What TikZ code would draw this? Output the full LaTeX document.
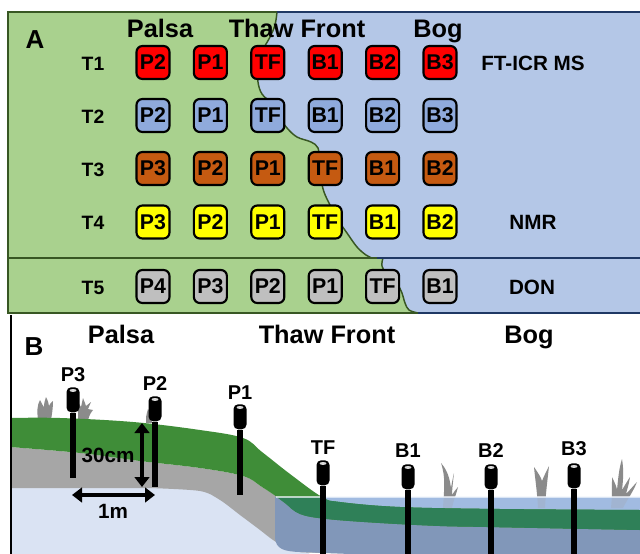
\documentclass[tikz,border=0pt]{standalone}
\usepackage{fontspec}
\setmainfont{Liberation Sans}
\usetikzlibrary{arrows.meta}

% panel A colours
\definecolor{palsaFill}{HTML}{A9D18E}
\definecolor{bogFill}{HTML}{B4C7E7}
\definecolor{palsaLine}{HTML}{385723}
\definecolor{bogLine}{HTML}{1F3864}
\definecolor{cRed}{HTML}{FF0000}
\definecolor{cBlue}{HTML}{8FAADC}
\definecolor{cBrown}{HTML}{C55A11}
\definecolor{cYellow}{HTML}{FFFF00}
\definecolor{cGray}{HTML}{BFBFBF}
% panel B colours
\definecolor{moss}{HTML}{3F8D38}
\definecolor{bogmoss}{HTML}{2F8058}
\definecolor{mineral}{HTML}{A6A6A6}
\definecolor{permafrost}{HTML}{DAE3F3}
\definecolor{peat}{HTML}{8197B9}
\definecolor{pool}{HTML}{B0CBF2}
\definecolor{plant}{HTML}{7F7F7F}

\tikzset{
  sbox/.style={draw=black, line width=1.6pt, rounded corners=4.5pt,
    minimum width=24.75pt, minimum height=24.75pt, inner sep=0pt,
    font=\bfseries\fontsize{16}{16}\selectfont, text height=11.1pt, text depth=0pt},
  rowlab/.style={inner sep=0pt, font=\bfseries\fontsize{14.5}{14.5}\selectfont,
    text height=10.1pt, text depth=0pt},
  methodlab/.style={inner sep=0pt, font=\bfseries\fontsize{15.5}{15.5}\selectfont,
    text height=10.8pt, text depth=0pt},
  sitetitle/.style={inner sep=0pt, anchor=base, font=\bfseries\fontsize{19}{19}\selectfont},
  panellab/.style={inner sep=0pt, anchor=base, font=\bfseries\fontsize{19.5}{19.5}\selectfont},
  edgeP/.style={draw=palsaLine, line width=2.2pt},
  edgeB/.style={draw=bogLine, line width=2.2pt},
  probecap/.style={fill=black, rounded corners=3.5pt, minimum width=9.75pt,
    minimum height=18.75pt, inner sep=0pt, anchor=north},
  probestick/.style={draw=black, line width=4.1pt},
  probeglint/.style={fill=white!70!gray},
  probelab/.style={inner sep=0pt, font=\bfseries\fontsize{15}{15}\selectfont,
    text height=10.5pt, text depth=0pt},
  dimarrow/.style={line width=3.1pt, {Triangle[width=11pt,length=7.5pt]}-{Triangle[width=11pt,length=7.5pt]}},
  dimlab/.style={inner sep=0pt, font=\bfseries\fontsize{15.5}{15.5}\selectfont,
    text height=10.8pt, text depth=0pt},
  vegetation/.style={fill=plant, fill opacity=0.9},
}

\begin{document}
\begin{tikzpicture}[x=0.75pt, y=-0.75pt]
\useasboundingbox (0,0) rectangle (640,554);
\fill[white] (0,0) rectangle (640,554);

% ---------------- Panel A: sampling scheme ----------------
\fill[bogFill] (8,12) rectangle (640,313);
\filldraw[fill=palsaFill, draw=palsaLine, line width=1.1pt, line join=round]
  (8,12) -- (277,12)
  -- plot[smooth, tension=0.6] coordinates {(277,12) (275,25) (270,37) (263,50)
     (258,67) (258,82) (262,94) (272,104) (280,118) (287,128) (297,137) (311,142)
     (318,148) (319,160) (321,178) (324,192) (331,207) (338,220) (347,233)
     (357,247) (366,255) (372,258)}
  -- (383,258)
  -- plot[smooth, tension=0.6] coordinates {(383,258) (382,266) (387,275)
     (397,284) (402,293) (405,303) (409,310) (418,313)}
  -- (8,313) -- cycle;

% frame and row separator
\draw[edgeP, line join=miter] (277,12) -- (8,12) -- (8,313) -- (418,313);
\draw[edgeP] (8,258) -- (377,258);
\draw[edgeB] (277,12) -- (641,12);
\draw[edgeB] (377,258) -- (641,258);
\draw[edgeB] (418,313) -- (641,313);

\node[panellab] (labA) at (35,48) {A};
\node[sitetitle] (tPalsaA) at (160,37) {Palsa};
\node[sitetitle] (tThawA) at (297,37) {Thaw Front};
\node[sitetitle] (tBogA) at (438,37) {Bog};

\foreach \r/\y/\col/\labs in {
    1/62.5/cRed/{P2,P1,TF,B1,B2,B3},
    2/115.5/cBlue/{P2,P1,TF,B1,B2,B3},
    3/168.5/cBrown/{P3,P2,P1,TF,B1,B2},
    4/222/cYellow/{P3,P2,P1,TF,B1,B2},
    5/286.5/cGray/{P4,P3,P2,P1,TF,B1}} {
  \node[rowlab] (T\r) at (93,\y+1.2) {T\r};
  \foreach \lab [count=\c] in \labs {
    \pgfmathsetmacro\xx{153+(\c-1)*57.4}
    \node[sbox, fill=\col] (s\r-\c) at (\xx,\y) {\lab};
  }
}

\node[methodlab] (mFT) at (533,63.3) {FT-ICR MS};
\node[methodlab] (mNMR) at (533,222.5) {NMR};
\node[methodlab] (mDON) at (532,287.5) {DON};

% ---------------- Panel B: transect cross-section ----------------
\begin{scope}
\clip (12,315) rectangle (640,554);
% permafrost base, kept below the mineral layer
\fill[permafrost] (10,486) -- (230,486) -- (312,556) -- (10,556) -- cycle;
% mineral layer
\fill[mineral]
  plot[smooth, tension=0.6] coordinates {(10,447) (80,453) (140,461) (200,468)
     (243,476) (262,487) (277,497)}
  -- (640,497) -- (640,556)
  -- plot[smooth, tension=0.5] coordinates {(640,556) (330,553) (300,551) (287,548)
     (273,540) (260,530) (240,515) (220,500) (200,491) (150,488)}
  -- (10,488) -- cycle;
% waterlogged peat of the bog
\fill[peat] (275,497) -- (275,538) .. controls (276,549) and (284,551.5) .. (300,552)
  -- (400,556) -- (640,556) -- (640,497) -- cycle;

% vegetation
\fill[vegetation] (38,420) .. controls (37,412) and (37,405) .. (40,400)
  .. controls (42,404) and (43,406) .. (44,407) .. controls (44,403) and (45,400) .. (46,397)
  .. controls (48,401) and (49,404) .. (49,406) .. controls (50,404) and (51,402) .. (53,401)
  .. controls (53,408) and (52,414) .. (51,420) -- cycle;
\fill[vegetation] (78,420) -- (78,402) .. controls (80,404) .. (81,407)
  .. controls (82,403) .. (83,398) .. controls (85,403) .. (86,406)
  .. controls (88,404) .. (91,402) .. controls (90,406) .. (88,409)
  .. controls (90,409) .. (93,410) .. controls (90,414) .. (88,420) -- cycle;
\fill[vegetation] (146,423) .. controls (146,416) .. (148,409) .. controls (150,412) .. (152,410)
  -- (152,423) -- cycle;
\fill[vegetation] (443,508) .. controls (444,490) and (446,478) .. (441,463)
  .. controls (449,472) and (450,482) .. (451,488) .. controls (452,482) and (453,477) .. (454,473)
  .. controls (453,482) and (452,490) .. (452,495) .. controls (454,492) and (456,489) .. (458,487)
  .. controls (456,495) and (453,502) .. (452,508) -- cycle;
\fill[vegetation] (538,508) .. controls (537,490) and (535,478) .. (534,467)
  .. controls (538,473) and (541,477) .. (542,481) .. controls (544,476) and (547,470) .. (549,466)
  .. controls (548,476) and (546,490) .. (545,508) -- cycle;
\fill[vegetation] (611,508) .. controls (612,498) and (612,488) .. (612,477)
  .. controls (615,483) and (617,488) .. (617,490) .. controls (618,480) and (619,468) .. (622,459)
  .. controls (624,470) and (623,482) .. (622,490) .. controls (625,485) and (628,480) .. (630,477)
  .. controls (629,484) and (627,490) .. (626,494) .. controls (630,490) and (634,485) .. (637,482)
  .. controls (633,492) and (627,500) .. (623,508) -- cycle;

% open water of the bog
\fill[pool, fill opacity=0.7] (322,497) -- (640,497) -- (640,514) -- (322,514) -- cycle;

% active-layer moss, darker where it lies in the bog
\def\mosspath{plot[smooth, tension=0.6] coordinates {(10,418) (60,418) (133,422)
     (200,430) (243,438) (262,452) (290,474) (322,497) (340,502) (400,507)
     (500,509) (640,510)}
  -- (640,530)
  -- plot[smooth, tension=0.6] coordinates {(640,530) (487,527) (440,526)
     (380,523) (327,519) (300,514) (285,503) (277,497) (262,487) (243,476)
     (200,468) (140,461) (80,453) (10,447)}
  -- cycle}
\fill[moss] \mosspath;
\begin{scope}
  \clip (275,497) rectangle (640,556);
  \fill[bogmoss] \mosspath;
\end{scope}
\draw[white!85!pool, line width=0.8pt, opacity=0.7] (276,497) -- (640,497);

% probes
\foreach \nm/\px/\ptop/\pfoot/\ly in {P3/73/387/478/374, P2/155/396/487/383,
    P1/240/404/495/392, TF/323/460/560/447, B1/408/464/560/450,
    B2/491/464/560/450, B3/574/463/560/448} {
  \coordinate (\nm-foot) at (\px,\pfoot);
  \node[probecap] (\nm-cap) at (\px,\ptop) {};
  \draw[probestick] (\nm-cap.south) -- (\nm-foot);
  \fill[probeglint] ([yshift=-2.6pt]\nm-cap.north) ellipse [x radius=2.6pt, y radius=1.1pt];
  \node[probelab] (\nm-lab) at (\px,\ly) {\nm};
}

% scale bars
\coordinate (depthTop) at (142,423);
\coordinate (depthBot) at (142,487);
\coordinate (spanL) at (72,495);
\coordinate (spanR) at (155,495);
\draw[dimarrow] (depthTop) -- (depthBot);
\draw[dimarrow] (spanL) -- (spanR);
\node[dimlab] (depthLab) at (108,455) {30cm};
\node[dimlab] (spanLab) at (113,511) {1m};
\end{scope}

\draw[black, line width=1.6pt] (11,315) -- (11,555);

\node[panellab] (labB) at (34,355) {B};
\node[sitetitle] (tPalsaB) at (121,343) {Palsa};
\node[sitetitle] (tThawB) at (327,343) {Thaw Front};
\node[sitetitle] (tBogB) at (529,343) {Bog};
\end{tikzpicture}
\end{document}
